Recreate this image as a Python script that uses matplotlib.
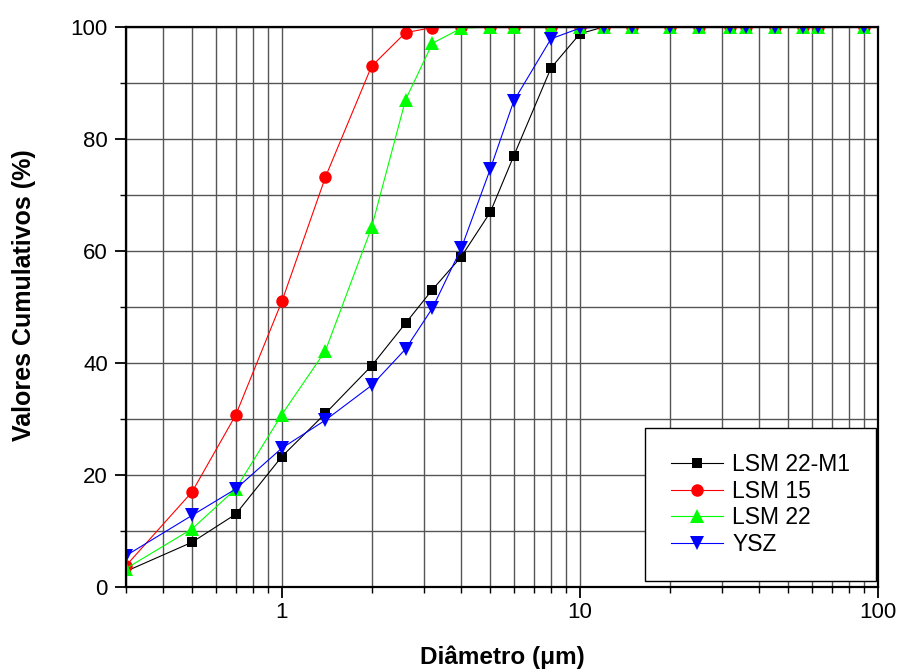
import matplotlib
matplotlib.use("Agg")
import matplotlib.pyplot as plt
from matplotlib.ticker import LogLocator, FixedLocator, NullFormatter

plt.rcParams["font.family"] = ["Liberation Sans", "DejaVu Sans"]

# particle size classes (um)
diameter = [0.3, 0.5, 0.7, 1.0, 1.4, 2.0, 2.6, 3.2, 4.0, 5.0, 6.0, 8.0, 10.0,
            12.0, 15.0, 20.0, 25.0, 32.0, 36.0, 45.0, 56.0, 63.0, 90.0]

# cumulative values (%)
lsm22_m1 = [2.8, 8.0, 13.0, 23.3, 31.0, 39.5, 47.1, 53.1, 59.0, 66.9, 77.0, 92.7, 98.8,
            100, 100, 100, 100, 100, 100, 100, 100, 100, 100]
lsm15 = [3.8, 17.0, 30.7, 51.0, 73.2, 93.0, 99.0, 99.9, 100, 100, 100, 100, 100,
         100, 100, 100, 100, 100, 100, 100, 100, 100, 100]
lsm22 = [3.3, 10.4, 17.5, 30.8, 42.2, 64.2, 87.0, 97.1, 99.8, 100, 100, 100, 100,
         100, 100, 100, 100, 100, 100, 100, 100, 100, 100]
ysz = [5.6, 12.8, 17.5, 24.8, 29.8, 36.0, 42.5, 49.8, 60.5, 74.6, 86.8, 97.9, 99.8,
       100, 100, 100, 100, 100, 100, 100, 100, 100, 100]

series = [
    ("LSM 22-M1", lsm22_m1, "#000000", "s", 7.5),
    ("LSM 15", lsm15, "#ff0000", "o", 9.0),
    ("LSM 22", lsm22, "#00ff00", "^", 10.5),
    ("YSZ", ysz, "#0000ff", "v", 10.5),
]

fig = plt.figure(figsize=(8.99, 6.69), dpi=100)
ax = fig.add_axes([0.1402, 0.1226, 0.8364, 0.8370])

for label, values, color, marker, size in series:
    ax.plot(diameter, values, color=color, linewidth=0.8, marker=marker,
            markersize=size, markeredgewidth=0, label=label, zorder=3)

ax.set_xscale("log")
ax.set_xlim(0.3, 100)
ax.set_ylim(0, 100)

ax.xaxis.set_major_locator(FixedLocator([1, 10, 100]))
ax.xaxis.set_major_formatter(plt.FuncFormatter(lambda v, _: f"{v:g}"))
ax.xaxis.set_minor_locator(LogLocator(base=10, subs=range(2, 10), numticks=20))
ax.xaxis.set_minor_formatter(NullFormatter())
ax.set_yticks([0, 20, 40, 60, 80, 100])
ax.set_yticks(range(10, 100, 20), minor=True)

ax.grid(True, which="both", color="#555555", linewidth=1.0)
ax.set_axisbelow(True)

ax.tick_params(which="major", direction="out", length=8, width=1.3, labelsize=16,
               top=False, right=False)
ax.tick_params(axis="y", which="major", pad=5)
ax.tick_params(axis="x", which="major", pad=3)
ax.tick_params(which="minor", direction="out", length=4, width=1.0,
               top=False, right=False)

for side in ["left", "bottom", "top", "right"]:
    ax.spines[side].set_linewidth(1.6)
    ax.spines[side].set_zorder(4)

ax.set_xlabel("Diâmetro (μm)", fontsize=17.5, fontweight="bold")
ax.set_ylabel("Valores Cumulativos (%)", fontsize=18, fontweight="bold")
ax.xaxis.set_label_coords(0.5, -0.105)
ax.yaxis.set_label_coords(-0.12, 0.521)

leg = ax.legend(loc="lower right", bbox_to_anchor=(0.997, 0.011), fontsize=16.5,
                fancybox=False, framealpha=1, edgecolor="black", handlelength=2.3,
                handletextpad=0.4, borderpad=1.1, labelspacing=0.15, borderaxespad=0)
leg.get_frame().set_linewidth(1.0)
leg.set_zorder(5)

fig.savefig("out.png", dpi=100)
